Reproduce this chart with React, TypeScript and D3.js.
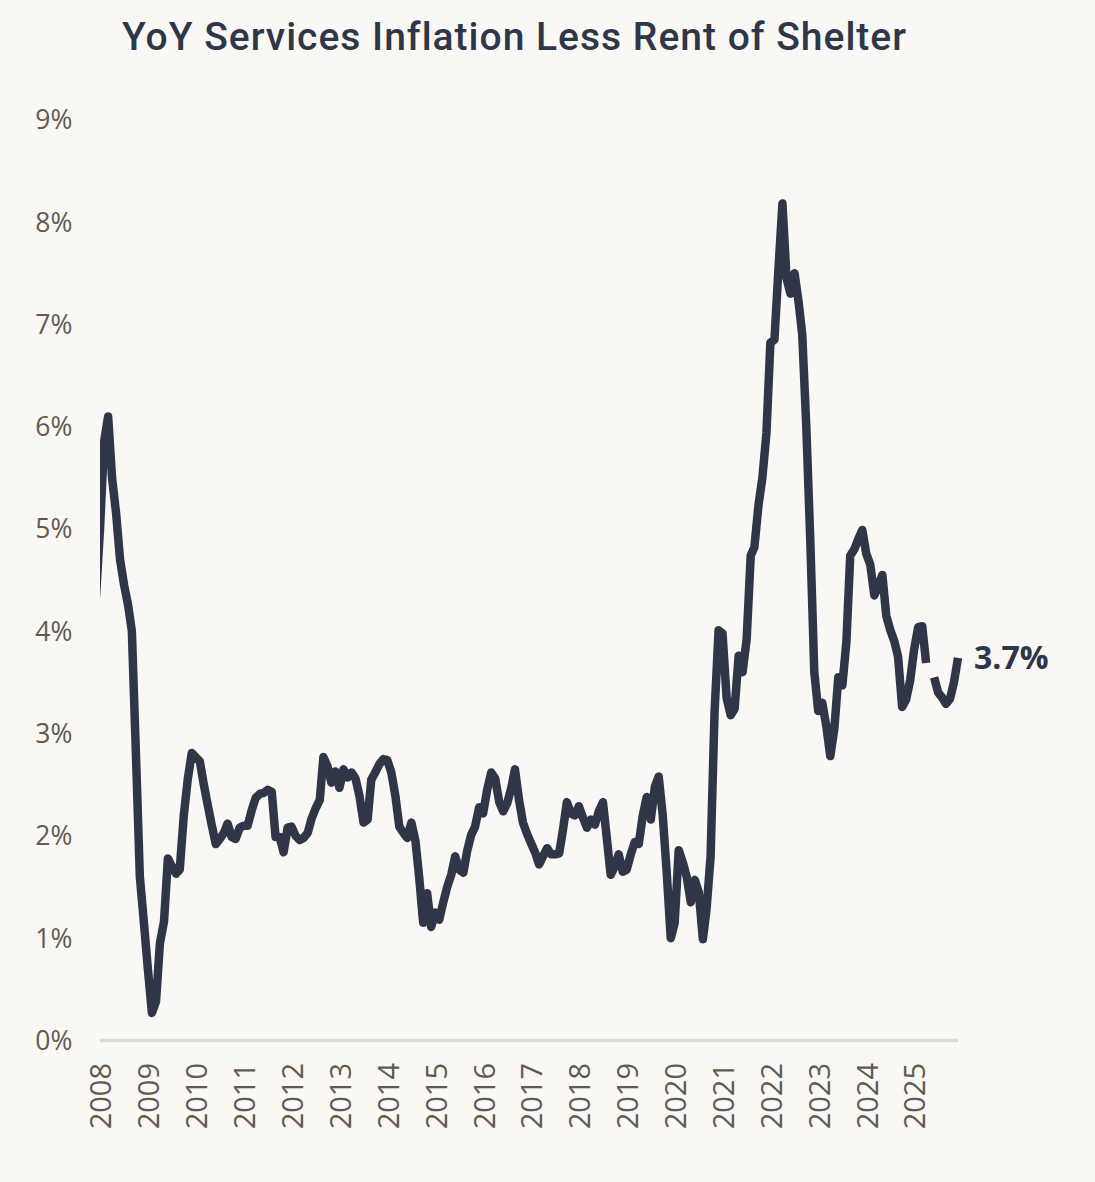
import React, { useEffect, useRef } from 'react';
import * as d3 from 'd3';

const WIDTH = 1095;
const HEIGHT = 1182;

const chartTitle = 'YoY Services Inflation Less Rent of Shelter';

// one value per month, first one is May 2008; null = month with no print
const firstMonth = new Date(2008, 4, 1);
const yoyValues: (number | null)[] = [
	3.9, 4.35, 5.0, 5.85, 6.1, 5.5, 5.15, 4.7, 4.45, 4.25, 4.0, 2.8,
	1.6, 1.15, 0.7, 0.27, 0.38, 0.95, 1.16, 1.78, 1.7, 1.63, 1.67, 2.2,
	2.55, 2.81, 2.77, 2.73, 2.5, 2.3, 2.1, 1.92, 1.97, 2.03, 2.12, 1.99,
	1.97, 2.08, 2.1, 2.1, 2.25, 2.37, 2.41, 2.42, 2.45, 2.43, 1.99, 1.99,
	1.84, 2.08, 2.09, 2.0, 1.96, 1.98, 2.03, 2.17, 2.27, 2.35, 2.77, 2.68,
	2.52, 2.63, 2.47, 2.65, 2.57, 2.62, 2.56, 2.39, 2.13, 2.16, 2.55, 2.62,
	2.7, 2.75, 2.74, 2.62, 2.39, 2.09, 2.03, 1.98, 2.13, 1.95, 1.6, 1.15,
	1.44, 1.11, 1.25, 1.18, 1.35, 1.5, 1.62, 1.8, 1.67, 1.64, 1.85, 2.01,
	2.09, 2.28, 2.22, 2.45, 2.62, 2.56, 2.33, 2.24, 2.32, 2.47, 2.65, 2.35,
	2.13, 2.02, 1.93, 1.84, 1.72, 1.8, 1.88, 1.82, 1.82, 1.83, 2.05, 2.33,
	2.22, 2.2, 2.29, 2.18, 2.08, 2.16, 2.11, 2.24, 2.33, 1.96, 1.62, 1.7,
	1.82, 1.65, 1.67, 1.82, 1.94, 1.92, 2.2, 2.38, 2.16, 2.48, 2.58, 2.2,
	1.65, 1.0, 1.15, 1.86, 1.74, 1.6, 1.35, 1.57, 1.45, 0.99, 1.28, 1.8,
	3.2, 4.01, 3.98, 3.35, 3.18, 3.24, 3.76, 3.6, 3.92, 4.74, 4.82, 5.23,
	5.5, 5.94, 6.82, 6.85, 7.55, 8.18, 7.45, 7.3, 7.5, 7.22, 6.9, 6.0,
	4.9, 3.6, 3.22, 3.3, 3.07, 2.78, 3.05, 3.55, 3.47, 3.9, 4.74, 4.8,
	4.9, 4.99, 4.76, 4.65, 4.35, 4.45, 4.55, 4.15, 4.01, 3.9, 3.75, 3.26,
	3.33, 3.52, 3.82, 4.04, 4.05, 3.69, null, 3.55, 3.4, 3.35, 3.29, 3.34,
	3.5, 3.74,
];

// axis runs Jul 2008 - Jun 2026, a label every twelve months
const axisStart = new Date(2008, 6, 1);
const axisEnd = new Date(2026, 5, 1);
const yearLabels = d3.range(2008, 2026);
const pctTicks = d3.range(0, 10);

const margin = { left: 100, right: 137, top: 119.7, bottom: 141.5 };

const lineColor = '#2e3648';
const labelColor = '#625a4f';
const bgColor = '#f9f8f5';

export default function App() {
	const svgRef = useRef<SVGSVGElement | null>(null);

	useEffect(() => {
		const svg = d3.select(svgRef.current);
		svg.selectAll('*').remove();

		const data = yoyValues.map((v, i) => ({ date: d3.timeMonth.offset(firstMonth, i), value: v }));

		const xScale = d3
			.scaleTime()
			.domain([axisStart, axisEnd])
			.range([margin.left, WIDTH - margin.right]);
		const yScale = d3
			.scaleLinear()
			.domain([0, 9])
			.range([HEIGHT - margin.bottom, margin.top]);

		svg.append('rect').attr('width', WIDTH).attr('height', HEIGHT).attr('fill', bgColor);

		//title
		svg
			.append('text')
			.attr('x', 514.5)
			.attr('y', 50)
			.attr('text-anchor', 'middle')
			.attr('fill', lineColor)
			.style('font', '500 39px Roboto, sans-serif')
			.style('letter-spacing', '1px')
			.text(chartTitle);

		//y labels, no gridlines
		svg
			.append('g')
			.selectAll('text')
			.data(pctTicks)
			.enter()
			.append('text')
			.attr('x', 72.3)
			.attr('y', d => yScale(d) + 9.5)
			.attr('text-anchor', 'end')
			.attr('fill', labelColor)
			.style('font', '26.5px "Open Sans", sans-serif')
			.text(d => `${d}%`);

		//baseline
		svg
			.append('line')
			.attr('x1', xScale(axisStart))
			.attr('x2', xScale(axisEnd))
			.attr('y1', yScale(0))
			.attr('y2', yScale(0))
			.attr('stroke', '#d9d9d9')
			.attr('stroke-width', 3.5);

		//year labels, rotated
		svg
			.append('g')
			.selectAll('text')
			.data(yearLabels)
			.enter()
			.append('text')
			.attr('transform', d => `translate(${xScale(new Date(d, 6, 1))},1063) rotate(-90)`)
			.attr('y', 11.4)
			.attr('text-anchor', 'end')
			.attr('fill', labelColor)
			.style('font', '29px "Open Sans", sans-serif')
			.text(d => d);

		svg
			.append('clipPath')
			.attr('id', 'plot-clip')
			.append('rect')
			.attr('x', margin.left)
			.attr('y', 0)
			.attr('width', WIDTH - margin.left)
			.attr('height', HEIGHT);

		const line = d3
			.line<{ date: Date; value: number | null }>()
			.defined(d => d.value !== null)
			.x(d => xScale(d.date))
			.y(d => yScale(d.value as number));

		svg
			.append('path')
			.datum(data)
			.attr('clip-path', 'url(#plot-clip)')
			.attr('d', line)
			.attr('fill', 'none')
			.attr('stroke', lineColor)
			.attr('stroke-width', 8.5)
			.attr('stroke-linejoin', 'round');

		//last value label
		const last = data[data.length - 1];
		svg
			.append('text')
			.attr('x', xScale(last.date) + 16)
			.attr('y', yScale(last.value as number) + 11.4)
			.attr('fill', lineColor)
			.style('font', '700 32px "Open Sans", sans-serif')
			.text(`${(last.value as number).toFixed(1)}%`);
	}, []);

	return (
		<div style={{ position: 'absolute', left: 0, top: 0, width: WIDTH, height: HEIGHT, background: bgColor }}>
			<svg ref={svgRef} width={WIDTH} height={HEIGHT} style={{ display: 'block' }} />
		</div>
	);
}
